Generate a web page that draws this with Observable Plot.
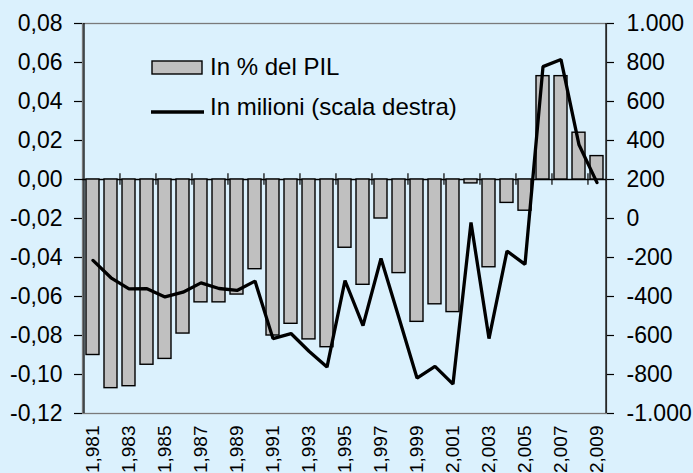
<!DOCTYPE html>
<html>
<head>
<meta charset="utf-8">
<script src="https://cdn.jsdelivr.net/npm/d3@7"></script>
<script src="https://cdn.jsdelivr.net/npm/@observablehq/plot@0.6"></script>
<style>
  html, body { margin: 0; padding: 0; background: #dbf1fd; }
  #chart { width: 693px; height: 473px; overflow: hidden; }
</style>
</head>
<body>
<div id="chart"></div>
<script>
const years = [1981,1982,1983,1984,1985,1986,1987,1988,1989,1990,1991,1992,1993,1994,1995,1996,1997,1998,1999,2000,2001,2002,2003,2004,2005,2006,2007,2008,2009];
const pctGDP = [-0.090,-0.107,-0.106,-0.095,-0.092,-0.079,-0.063,-0.063,-0.059,-0.046,-0.080,-0.074,-0.082,-0.086,-0.035,-0.054,-0.020,-0.048,-0.073,-0.064,-0.068,-0.002,-0.045,-0.012,-0.016,0.053,0.053,0.024,0.012];
const millions = [-215,-304,-361,-360,-402,-378,-330,-359,-369,-321,-616,-590,-681,-762,-318,-549,-205,-510,-818,-758,-849,-20,-616,-167,-235,779,815,378,184];
const leftTicks = [-0.12,-0.10,-0.08,-0.06,-0.04,-0.02,0,0.02,0.04,0.06,0.08];
const rightTicks = [-1000,-800,-600,-400,-200,0,200,400,600,800,1000];
const labelYears = [1981,1983,1985,1987,1989,1991,1993,1995,1997,1999,2001,2003,2005,2007,2009];
const boundaryYears = [1983,1985,1987,1989,1991,1993,1995,1997,1999,2001,2003,2005,2007,2009];
const seriesNames = ["In % del PIL", "In milioni (scala destra)"];

const it = d3.formatLocale({decimal: ",", thousands: ".", grouping: [3], currency: ["", "€"], minus: "-"});
const fmtL = it.format(",.2f");
const fmtR = it.format(",.0f");
// right scale (millions) mapped onto left scale: 1000 -> 0.08, -1000 -> -0.12
const toLeft = v => -0.02 + v / 10000;
const fromLeft = t => Math.round((t + 0.02) * 10000);

const bars = years.map((y, i) => ({year: y, v: pctGDP[i]}));
const line = years.map((y, i) => ({year: y, v: toLeft(millions[i])}));

const W = 693, H = 473, mL = 82, mR = 87, mT = 23, mB = 60;
const step = (W - mL - mR) / years.length;
const bg = "#dbf1fd";
const font = "'Liberation Sans', Arial, sans-serif";

const plot = Plot.plot({
  width: W, height: H,
  marginLeft: mL, marginRight: mR, marginTop: mT, marginBottom: mB,
  style: {background: bg, fontFamily: font, fontSize: "23px", color: "black", overflow: "visible"},
  x: {type: "band", domain: years, paddingInner: 0.3, paddingOuter: 0.15, axis: null},
  y: {domain: [-0.12, 0.08], axis: null},
  marks: [
    Plot.frame({stroke: "#7a7a7a", strokeWidth: 1.3}),
    Plot.ruleX([years[0]], {dx: -step / 2, y1: -0.12, y2: 0.08, stroke: "black", strokeWidth: 1.3}),
    Plot.ruleX([years[years.length - 1]], {dx: step / 2, y1: -0.12, y2: 0.08, stroke: "black", strokeWidth: 1.3}),
    Plot.ruleX(boundaryYears, {x: d => d, dx: -step / 2, y1: -0.0029, y2: 0.0029, stroke: "black", strokeWidth: 1.2}),
    Plot.ruleY([0], {stroke: "black", strokeWidth: 1.3}),
    Plot.axisY(leftTicks, {anchor: "left", tickSize: 8, tickPadding: 12, tickFormat: fmtL, fontSize: 23, label: null, strokeWidth: 1.2}),
    Plot.axisY(rightTicks.map(toLeft), {anchor: "right", tickSize: 7, tickPadding: 13, tickFormat: t => fmtR(fromLeft(t)), fontSize: 23, label: null, strokeWidth: 1.2}),
    Plot.axisX(labelYears, {anchor: "bottom", tickSize: 0, tickPadding: 12, tickRotate: -90, fontSize: 19, label: null}),
    Plot.barY(bars, {x: "year", y: "v", fill: "#c0c0c0", stroke: "black", strokeWidth: 1.4}),
    Plot.line(line, {x: "year", y: "v", stroke: "black", strokeWidth: 3.3, strokeLinejoin: "miter"})
  ]
});

document.getElementById("chart").appendChild(plot);

// Legend inside the plot area
const svg = d3.select(plot);
const g = svg.append("g").attr("font-family", font).attr("font-size", 24).attr("fill", "black").attr("text-anchor", "start");
g.append("rect").attr("x", 152).attr("y", 61).attr("width", 50).attr("height", 13)
  .attr("fill", "#c0c0c0").attr("stroke", "black").attr("stroke-width", 1.4);
g.append("text").attr("x", 210).attr("y", 74.5).attr("text-anchor", "start").text(seriesNames[0]);
g.append("line").attr("x1", 151).attr("x2", 204).attr("y1", 112).attr("y2", 112)
  .attr("stroke", "black").attr("stroke-width", 3.3);
g.append("text").attr("x", 210).attr("y", 114.5).attr("text-anchor", "start").text(seriesNames[1]);
</script>
</body>
</html>
